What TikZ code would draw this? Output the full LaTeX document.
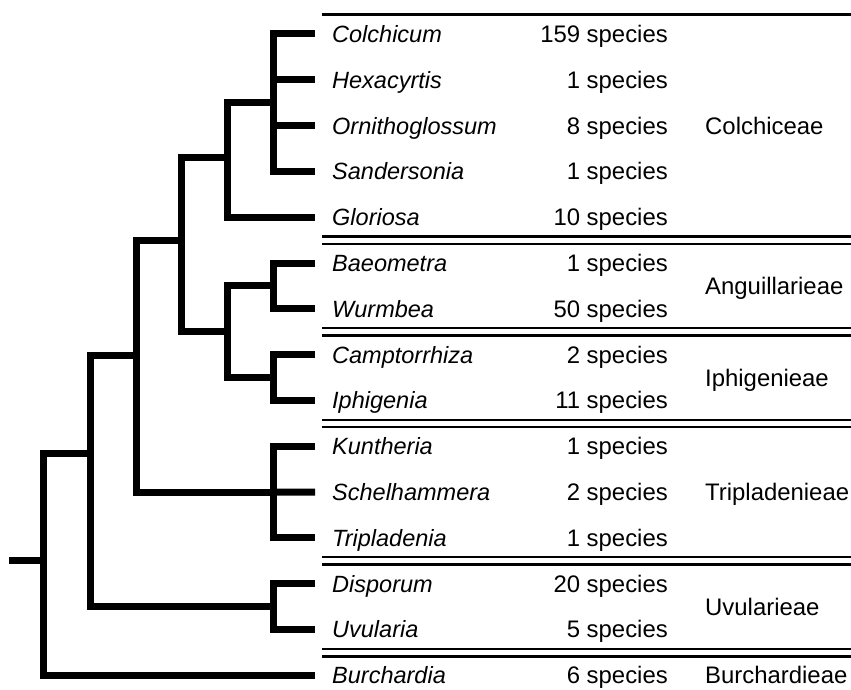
\documentclass[tikz,border=0pt]{standalone}
\usepackage{fontspec}
\setmainfont{Liberation Sans}
\begin{document}
\begin{tikzpicture}[x=1pt,y=-1pt,
  branch/.style={line width=7pt, line cap=butt, line join=miter},
  rule/.style={line width=2.2pt},
  taxon/.style={anchor=base west, inner sep=0pt, font=\fontsize{23.5}{28}\selectfont\itshape},
  count/.style={anchor=base east, inner sep=0pt, font=\fontsize{23.9}{28}\selectfont},
  tribe/.style={anchor=base west, inner sep=0pt, font=\fontsize{23.9}{28}\selectfont}]
\useasboundingbox (0,0) rectangle (851,690);

% leaves
\foreach \i/\n/\c in {0/Colchicum/159, 1/Hexacyrtis/1, 2/Ornithoglossum/8,
  3/Sandersonia/1, 4/Gloriosa/10, 5/Baeometra/1, 6/Wurmbea/50,
  7/Camptorrhiza/2, 8/Iphigenia/11, 9/Kuntheria/1, 10/Schelhammera/2,
  11/Tripladenia/1, 12/Disporum/20, 13/Uvularia/5, 14/Burchardia/6} {
  \pgfmathsetmacro\yy{34+45.8*\i}
  \coordinate (t\i) at (315,\yy);
  \node[taxon] (name\i) at (332,\yy+8.5) {\n};
  \node[count] (count\i) at (668,\yy+8.5) {\c\ species};
}

% tribes
\node[tribe] (colchiceae) at (705,125.6+8.5) {Colchiceae};
\node[tribe] (anguillarieae) at (705,285.9+8.5) {Anguillarieae};
\node[tribe] (iphigenieae) at (705,377.5+8.5) {Iphigenieae};
\node[tribe] (tripladenieae) at (705,492+8.5) {Tripladenieae};
\node[tribe] (uvularieae) at (705,606.5+8.5) {Uvularieae};
\node[tribe] (burchardieae) at (705,675.2+8.5) {Burchardieae};

% separators
\draw[rule] (322,14.5) -- (851,14.5);
\foreach \m in {240.1,331.7,423.3,560.7,652.8} {
  \draw[rule] (322,\m-3.7) -- (851,\m-3.7);
  \draw[rule] (322,\m+3.7) -- (851,\m+3.7);
}

% internal nodes
\coordinate (nCol) at (273,102.7);
\coordinate (nColG) at (227,157);
\coordinate (nAng) at (273,285.9);
\coordinate (nIph) at (273,377.5);
\coordinate (nAI) at (227,331.7);
\coordinate (nCAI) at (181,240);
\coordinate (nTri) at (273,492);
\coordinate (nA) at (136,355);
\coordinate (nUvu) at (273,606.5);
\coordinate (nB) at (90,453);
\coordinate (root) at (43,560);
\coordinate (base) at (9,560);

% tree
\draw[branch] (t0) -| (nCol) |- (t3);
\draw[branch] (nCol) |- (t1);
\draw[branch] (nCol) |- (t2);
\draw[branch] (nCol) -| (nColG) |- (t4);
\draw[branch] (t5) -| (nAng) |- (t6);
\draw[branch] (t7) -| (nIph) |- (t8);
\draw[branch] (nAng) -| (nAI) |- (nIph);
\draw[branch] (nColG) -| (nCAI) |- (nAI);
\draw[branch] (t9) -| (nTri) |- (t11);
\draw[branch] (nTri) -- (t10);
\draw[branch] (nCAI) -| (nA) |- (nTri);
\draw[branch] (t12) -| (nUvu) |- (t13);
\draw[branch] (nA) -| (nB) |- (nUvu);
\draw[branch] (nB) -| (root) |- (t14);
\draw[branch] (base) -- (root);
\end{tikzpicture}
\end{document}
